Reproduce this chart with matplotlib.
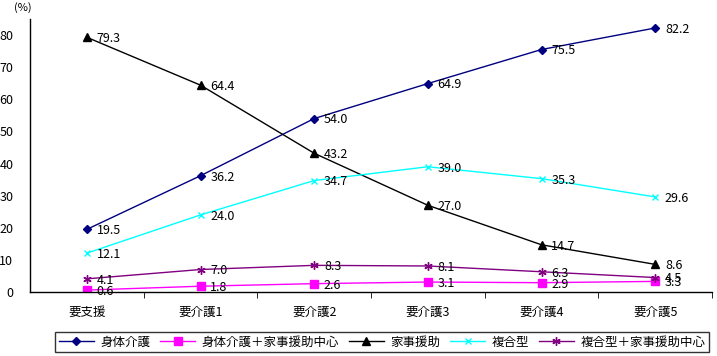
import matplotlib
matplotlib.use("Agg")
import matplotlib.pyplot as plt

plt.rcParams['font.family'] = ['Noto Sans CJK JP', 'DejaVu Sans']

categories = ["要支援", "要介護1", "要介護2", "要介護3", "要介護4", "要介護5"]
series_names = ["身体介護", "身体介護＋家事援助中心", "家事援助", "複合型", "複合型＋家事援助中心"]
body = [19.5, 36.2, 54.0, 64.9, 75.5, 82.2]
body_house = [0.6, 1.8, 2.6, 3.1, 2.9, 3.3]
house = [79.3, 64.4, 43.2, 27.0, 14.7, 8.6]
combined = [12.1, 24.0, 34.7, 39.0, 35.3, 29.6]
combined_house = [4.1, 7.0, 8.3, 8.1, 6.3, 4.5]
yticks = [0, 10, 20, 30, 40, 50, 60, 70, 80]

all_series = [body, body_house, house, combined, combined_house]
colors = ["#000080", "#FF00FF", "#000000", "#00FFFF", "#800080"]
markers = ["D", "s", "^", "x", (6, 2, 0)]
msizes = [4.5, 5.5, 5.5, 5, 6]

fig = plt.figure(figsize=(7.17, 3.56), dpi=100)
ax = fig.add_axes([30/717, 1 - 292/356, 682/717, 273/356])
x = list(range(len(categories)))
for vals, name, c, m, ms in zip(all_series, series_names, colors, markers, msizes):
    ax.plot(x, vals, color=c, marker=m, markersize=ms, linewidth=1.0,
            markeredgewidth=1.0, label=name)
    for xi, v in zip(x, vals):
        ax.annotate(f"{v:.1f}", (xi, v), xytext=(7, -1), textcoords="offset points",
                    ha="left", va="center", fontsize=9, color="black")

ax.set_xlim(-0.5, len(categories) - 0.5)
ax.set_ylim(0, 85)
ax.set_yticks(yticks)
ax.set_xticks(x)
ax.set_xticklabels(categories, fontsize=9)
ax.set_xticks([i + 0.5 for i in range(len(categories))], minor=True)
ax.tick_params(axis='x', which='major', length=0, pad=10)
ax.tick_params(axis='x', which='minor', length=4, direction='out')
ax.tick_params(axis='y', length=0, labelsize=9, pad=12)
for s in ['top', 'right']:
    ax.spines[s].set_visible(False)
ax.spines['left'].set_linewidth(1)
ax.spines['bottom'].set_linewidth(1)

fig.text(14/717, 1 - 8/356, "(%)", fontsize=8, va="center", ha="left")

leg = fig.legend(loc="center", bbox_to_anchor=(382/717, 1 - 342/356), ncol=5,
                 fontsize=9, frameon=True, fancybox=False, edgecolor="black",
                 handlelength=2.8, columnspacing=0.8, handletextpad=0.5,
                 borderpad=0.3, borderaxespad=0)
leg.get_frame().set_linewidth(1)

fig.savefig("out.png", dpi=100)
